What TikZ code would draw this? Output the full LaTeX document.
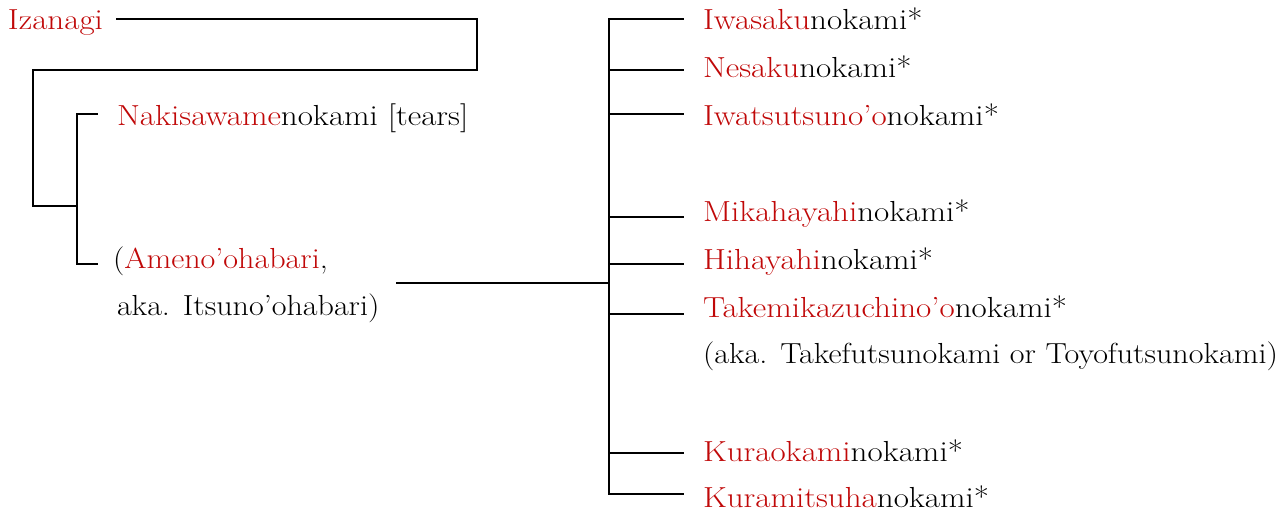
\documentclass[tikz,border=0pt]{standalone}
\definecolor{godred}{RGB}{192,8,8}
\tikzset{
  lbl/.style={anchor=base west, inner sep=0pt, outer sep=0pt, font=\fontsize{29}{35}\selectfont, xscale=1.14},
  lblw/.style={lbl, xscale=0.97},
  link/.style={line width=1.8pt, line cap=rect},
}
\newcommand{\rd}[1]{\textcolor{godred}{#1}}
\begin{document}
\begin{tikzpicture}[x=1pt,y=-1pt]
\useasboundingbox (0,0) rectangle (1285,515);
% labels
\node[lbl] (izanagi) at (8,29) {\rd{Izanagi}};
\node[lbl] (naki) at (117,125) {\rd{Nakisawame}nokami [tears]};
\node[lblw] (ameno) at (113,268) {(\rd{Ameno’ohabari},};
\node[lblw] (amenoaka) at (117,315) {aka. Itsuno’ohabari)};
\node[lbl] (iwasaku) at (703,29) {\rd{Iwasaku}nokami*};
\node[lbl] (nesaku) at (703,77) {\rd{Nesaku}nokami*};
\node[lbl] (iwatsu) at (703,125) {\rd{Iwatsutsuno’o}nokami*};
\node[lbl] (mika) at (703,221) {\rd{Mikahayahi}nokami*};
\node[lbl] (hiha) at (703,269) {\rd{Hihayahi}nokami*};
\node[lbl] (take) at (703,317) {\rd{Takemikazuchino’o}nokami*};
\node[lblw] (takeaka) at (703,363) {(aka. Takefutsunokami or Toyofutsunokami)};
\node[lbl] (kurao) at (703,461) {\rd{Kuraokami}nokami*};
\node[lbl] (kurami) at (703,507) {\rd{Kuramitsuha}nokami*};
% junction coordinates
\coordinate (izS) at (117,19);
\coordinate (izE) at (477,19);
\coordinate (izD) at (477,70);
\coordinate (izL) at (33,70);
\coordinate (izB) at (33,206);
\coordinate (brM) at (77,206);
\coordinate (brT) at (77,114);
\coordinate (brTe) at (97,114);
\coordinate (brB) at (77,264);
\coordinate (brBe) at (97,264);
\coordinate (amS) at (397,283);
\coordinate (amE) at (609,283);
\coordinate (rT) at (609,19);
\coordinate (rB) at (609,494);
% connectors
\draw[link] (izS) -- (izE) -- (izD) -- (izL) -- (izB) -- (brM);
\draw[link] (brTe) -- (brT) -- (brB) -- (brBe);
\draw[link] (amS) -- (amE);
\draw[link] (rT) -- (rB);
\foreach \y/\n in {19/iwasaku,70/nesaku,114/iwatsu,217/mika,264/hiha,314/take,453/kurao,494/kurami}{
  \coordinate (t\n) at (683,\y);
  \draw[link] (rT |- t\n) -- (t\n);
}
\end{tikzpicture}
\end{document}
